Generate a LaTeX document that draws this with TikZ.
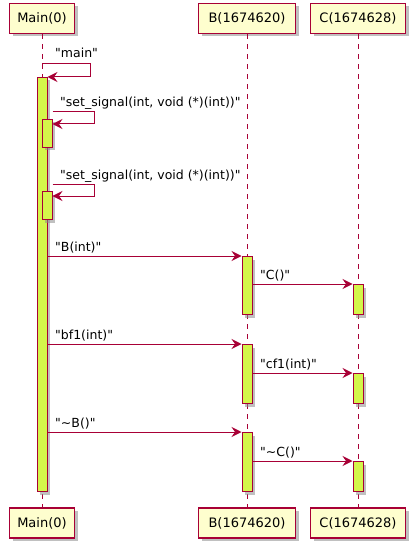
\documentclass[tikz,border=0pt]{standalone}
\usepackage{fontspec}
\setmainfont{DejaVu Sans}[Ligatures=TeXOff]
\usetikzlibrary{arrows.meta,shadows}

\definecolor{umlred}{HTML}{A80036}
\definecolor{umlbox}{HTML}{FEFECE}
\definecolor{umlact}{HTML}{D4F64A}

\tikzset{
  participant/.style={draw=umlred, fill=umlbox, line width=1.2pt, minimum height=30pt,
    inner sep=0pt, font=\fontsize{13}{15}\selectfont,
    drop shadow={shadow xshift=3pt, shadow yshift=-3pt, fill=black!45, opacity=.55}},
  lifeline/.style={umlred, line width=1pt, dash pattern=on 5pt off 5pt},
  act/.style={draw=umlred, fill=umlact, line width=1pt, minimum width=10pt, inner sep=0pt,
    anchor=north, drop shadow={shadow xshift=3pt, shadow yshift=-3pt, fill=black!45, opacity=.55}},
  msg/.style={umlred, line width=1pt, -{Stealth[length=10pt, width=10pt, inset=3.5pt]}},
  lbl/.style={anchor=base west, inner sep=0pt, font=\fontsize{12.5}{15}\selectfont}
}

\begin{document}
\begin{tikzpicture}[x=1pt,y=-1pt]
  \useasboundingbox (0,0) rectangle (415,548);

  % participants at top and bottom, with their lifelines
  \foreach \nm/\x/\w/\txt in {main/42/65/Main(0), b/247/97/B(1674620), c/358/95/C(1674628)} {
    \node[participant, minimum width=\w pt] (\nm-top) at (\x,18.5) {\txt};
    \node[participant, minimum width=\w pt] (\nm-bot) at (\x,523) {\txt};
    \draw[lifeline] (\nm-top) -- (\nm-bot);
  }

  % "main" and its activation
  \node[act, minimum height=414pt] (mainact) at (main-top.south |- 0,77) {};
  \coordinate (m0) at (main-top.south |- 0,64);
  \draw[msg] (m0) -- ++(48,0) |- (mainact.north east);
  \node[lbl] (lmain) at (55,58) {"main"};

  % self calls of set_signal
  \foreach \n/\y in {1/112, 2/184} {
    \node[act, minimum height=28pt] (sig\n) at (47,\y+7) {};
    \draw[msg] (sig\n.east |- 0,\y) -- ++(42,0) |- (sig\n.east |- 0,\y+12);
    \node[lbl] (lsig\n) at (60,\y-5) {"set\_signal(int, void (*)(int))"};
  }

  % calls to B, each followed by a call to C
  \foreach \n/\yb/\ye/\yc/\lb/\lc in {
    1/256/314/284/{"B(int)"}/{"C()"},
    2/344/403/373/{"bf1(int)"}/{"cf1(int)"},
    3/432/491/461/{"\textasciitilde B()"}/{"\textasciitilde C()"}} {
    \pgfmathsetmacro\hb{\ye-\yb}
    \pgfmathsetmacro\hc{\ye-\yc}
    \node[act, minimum height=\hb pt] (bact\n) at (b-top.south |- 0,\yb) {};
    \node[act, minimum height=\hc pt] (cact\n) at (c-top.south |- 0,\yc) {};
    \draw[msg] (mainact.east |- bact\n.north) -- (bact\n.north west);
    \draw[msg] (bact\n.east |- cact\n.north) -- (cact\n.north west);
    \node[lbl] (lb\n) at (55,\yb-5) {\lb};
    \node[lbl] (lc\n) at (260,\yc-5) {\lc};
  }
\end{tikzpicture}
\end{document}
